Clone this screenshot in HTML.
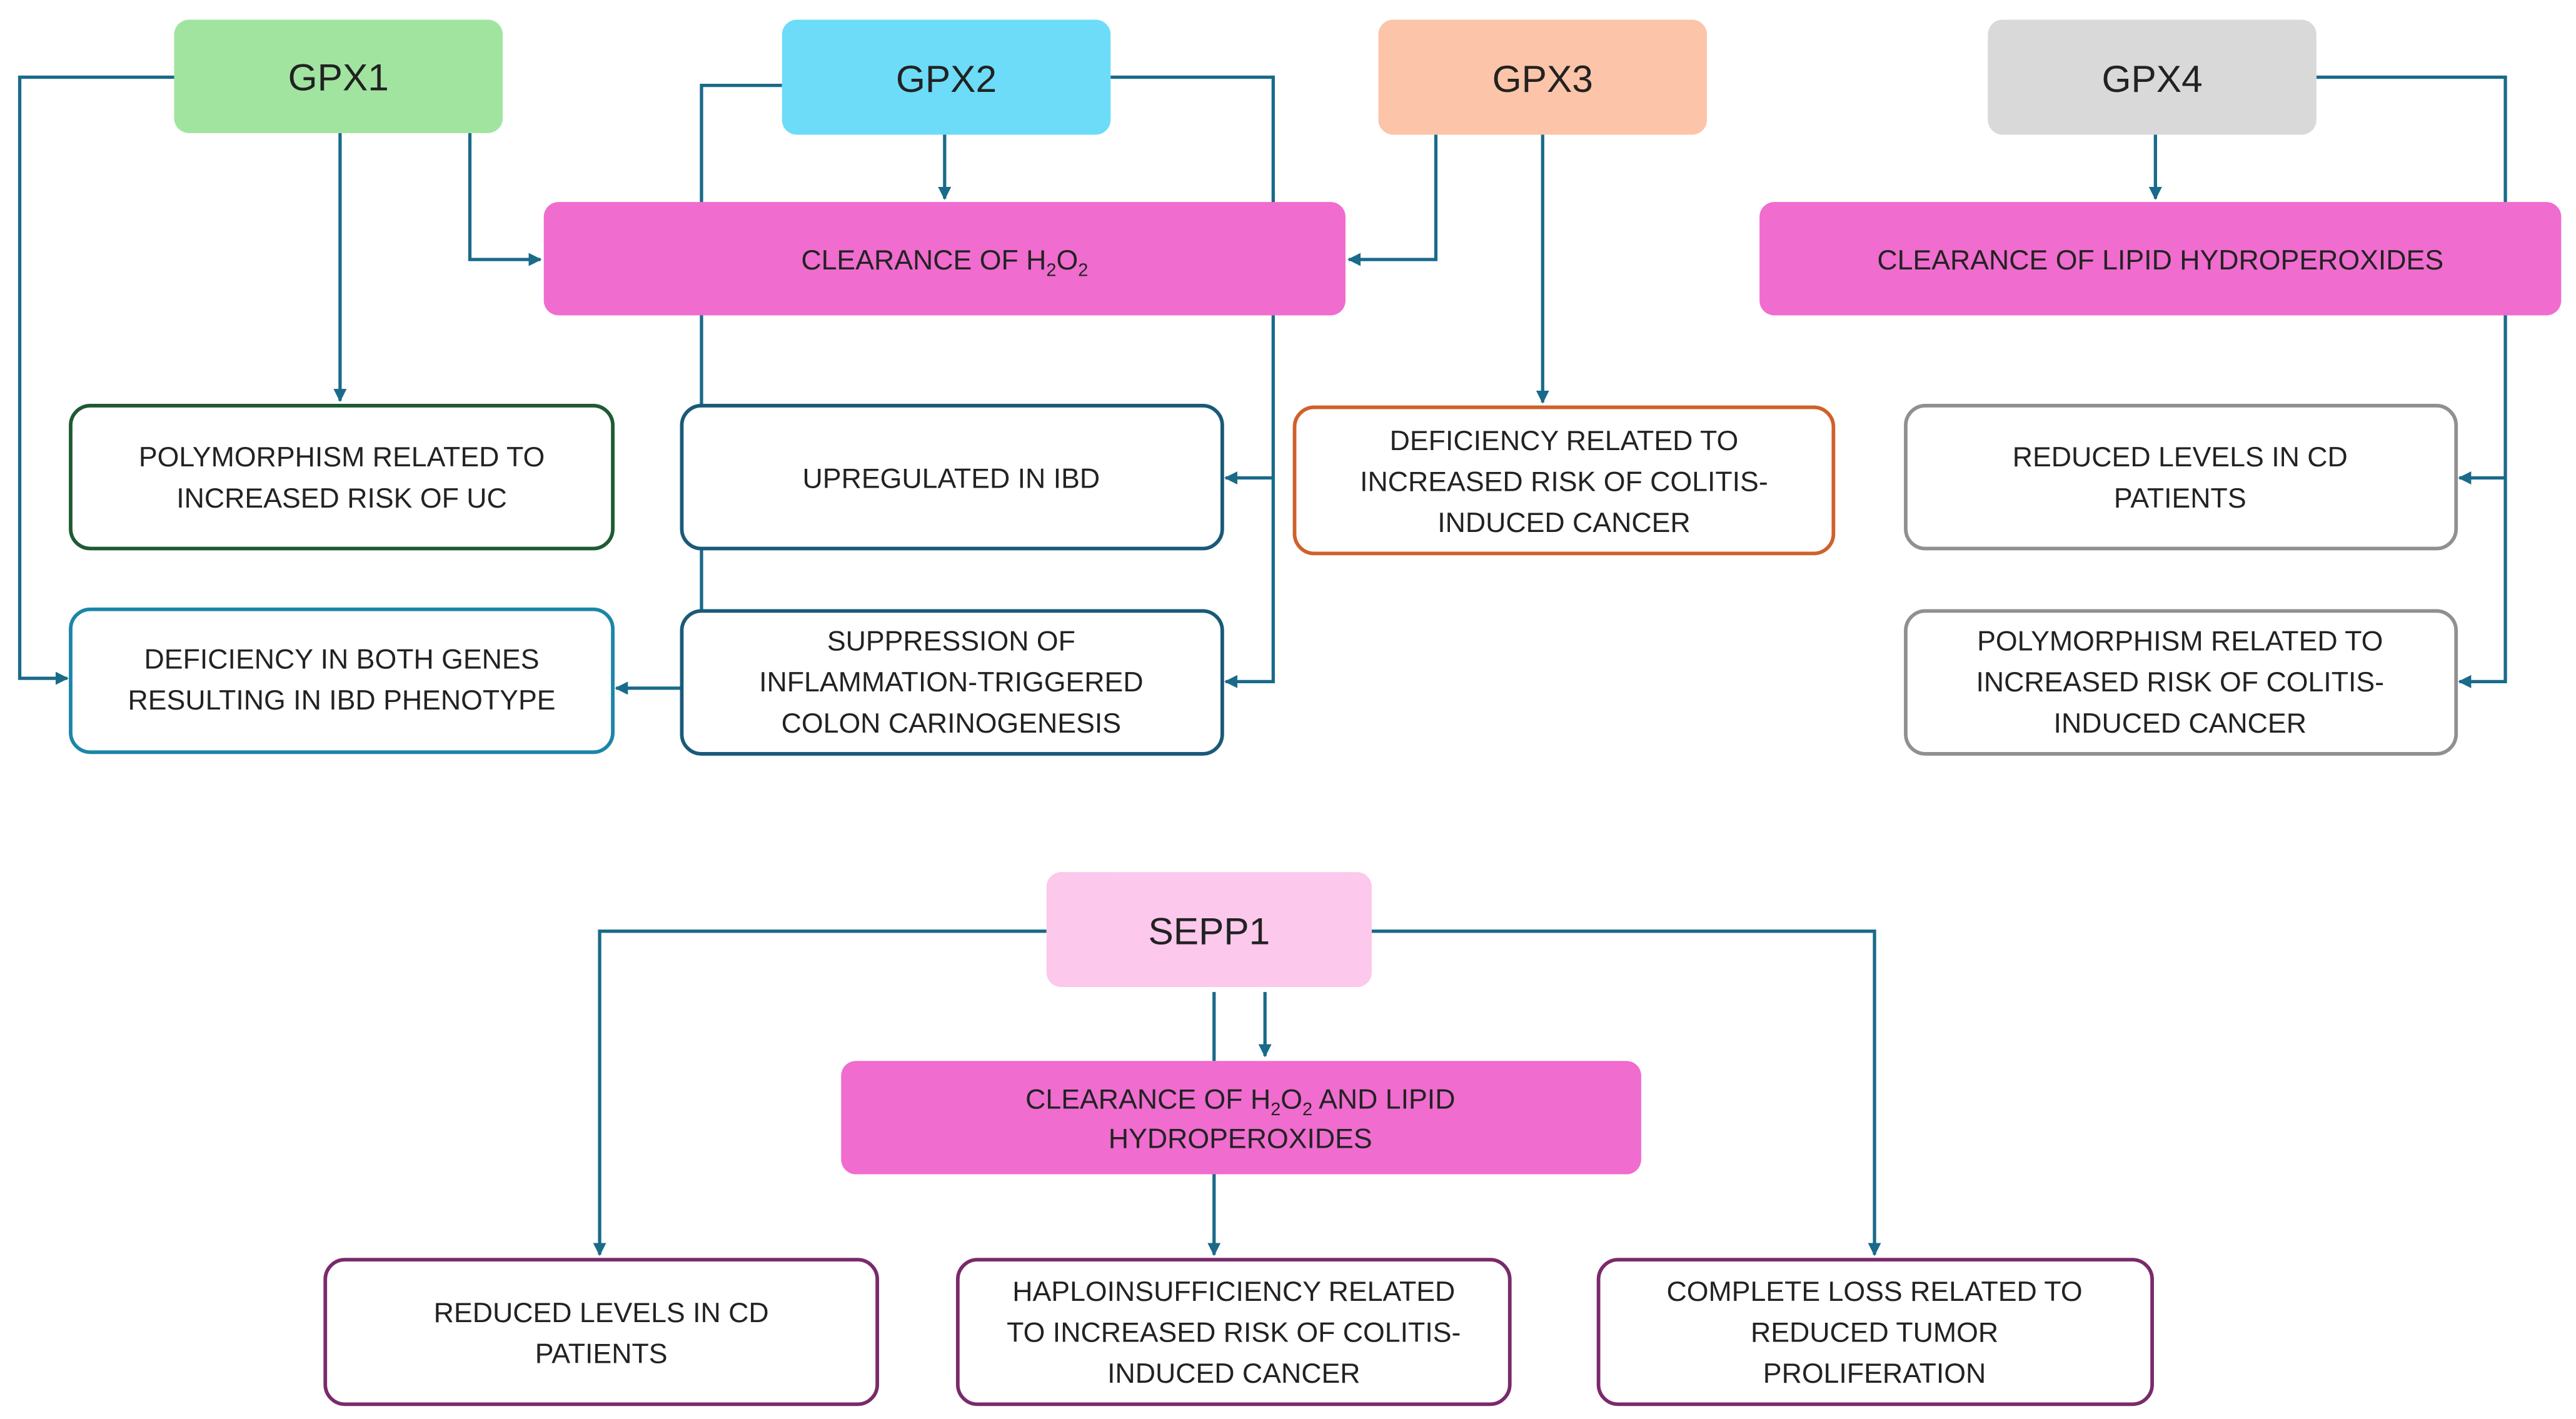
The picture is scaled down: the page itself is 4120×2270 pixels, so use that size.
<!DOCTYPE html>
<html><head><meta charset="utf-8"><style>html,body{margin:0;padding:0;background:#fff;}svg{display:block}</style></head>
<body>
<svg width="4120" height="2270" viewBox="0 0 1568 864" preserveAspectRatio="none" xmlns="http://www.w3.org/2000/svg">
<defs>
<marker id="a" viewBox="0 0 10 10" refX="9" refY="5" markerWidth="4" markerHeight="4" orient="auto"><path d="M0,0 L10,5 L0,10 z" fill="#1a6a8a"/></marker>
</defs>
<rect width="1568" height="864" fill="#fff"/>
<g fill="none" stroke="#1a6a8a" stroke-width="2">
<!-- GPX1 -->
<path d="M106,47 H12 V413 H41" marker-end="url(#a)"/>
<path d="M207,81 V244" marker-end="url(#a)"/>
<path d="M286,81 V158 H329" marker-end="url(#a)"/>
<!-- GPX2 -->
<path d="M476,52 H427 V371"/>
<path d="M676,47 H775 V415 H746" marker-end="url(#a)"/>
<path d="M775,291 H746" marker-end="url(#a)"/>
<path d="M575,82 V121" marker-end="url(#a)"/>
<path d="M415,419 H375" marker-end="url(#a)"/>
<!-- GPX3 -->
<path d="M874,82 V158 H821" marker-end="url(#a)"/>
<path d="M939,82 V245" marker-end="url(#a)"/>
<!-- GPX4 -->
<path d="M1312,82 V121" marker-end="url(#a)"/>
<path d="M1410,47 H1525 V415 H1497" marker-end="url(#a)"/>
<path d="M1525,291 H1497" marker-end="url(#a)"/>
<!-- SEPP1 -->
<path d="M637,567 H365 V764" marker-end="url(#a)"/>
<path d="M835,567 H1141 V764" marker-end="url(#a)"/>
<path d="M739,604 V646"/>
<path d="M770,604 V643" marker-end="url(#a)"/>
<path d="M739,715 V764" marker-end="url(#a)"/>
</g>
<!-- gene boxes -->
<rect x="106" y="12" width="200" height="69" rx="9" fill="#a0e4a0"/>
<rect x="476" y="12" width="200" height="70" rx="9" fill="#6cdcf8"/>
<rect x="839" y="12" width="200" height="70" rx="9" fill="#fcc4a8"/>
<rect x="1210" y="12" width="200" height="70" rx="9" fill="#d9d9d9"/>
<rect x="637" y="531" width="198" height="70" rx="9" fill="#fcc8ec"/>
<!-- clearance -->
<rect x="331" y="123" width="488" height="69" rx="9" fill="#f06ccf"/>
<rect x="1071" y="123" width="488" height="69" rx="9" fill="#f06ccf"/>
<rect x="512" y="646" width="487" height="69" rx="9" fill="#f06ccf"/>
<!-- outcome boxes -->
<g fill="#fff" stroke-width="2.2">
<rect x="43" y="247" width="330" height="87" rx="12" stroke="#1e5a32"/>
<rect x="415" y="247" width="329" height="87" rx="12" stroke="#1a5a78"/>
<rect x="788" y="248" width="328" height="89" rx="12" stroke="#d0602a"/>
<rect x="1160" y="247" width="335" height="87" rx="12" stroke="#909090"/>
<rect x="43" y="371" width="330" height="87" rx="12" stroke="#1a86a8"/>
<rect x="415" y="372" width="329" height="87" rx="12" stroke="#1a5a78"/>
<rect x="1160" y="372" width="335" height="87" rx="12" stroke="#909090"/>
<rect x="198" y="767" width="336" height="88" rx="12" stroke="#7a2a6a"/>
<rect x="583" y="767" width="336" height="88" rx="12" stroke="#7a2a6a"/>
<rect x="973" y="767" width="337" height="88" rx="12" stroke="#7a2a6a"/>
</g>
<g font-family="Liberation Sans, sans-serif" fill="#222" text-anchor="middle">
<g font-size="23">
<text x="206" y="55">GPX1</text>
<text x="576" y="56">GPX2</text>
<text x="939" y="56">GPX3</text>
<text x="1310" y="56">GPX4</text>
<text x="736" y="575">SEPP1</text>
</g>
<g font-size="17">
<text x="575" y="164">CLEARANCE OF H<tspan font-size="11" dy="4">2</tspan><tspan dy="-4">O</tspan><tspan font-size="11" dy="4">2</tspan></text>
<text x="1315" y="164">CLEARANCE OF LIPID HYDROPEROXIDES</text>
<text x="755" y="675">CLEARANCE OF H<tspan font-size="11" dy="4">2</tspan><tspan dy="-4">O</tspan><tspan font-size="11" dy="4">2</tspan><tspan dy="-4"> AND LIPID</tspan></text>
<text x="755" y="699">HYDROPEROXIDES</text>
<text x="208" y="284">POLYMORPHISM RELATED TO</text>
<text x="208" y="309">INCREASED RISK OF UC</text>
<text x="579" y="297">UPREGULATED IN IBD</text>
<text x="952" y="274">DEFICIENCY RELATED TO</text>
<text x="952" y="299">INCREASED RISK OF COLITIS-</text>
<text x="952" y="324">INDUCED CANCER</text>
<text x="1327" y="284">REDUCED LEVELS IN CD</text>
<text x="1327" y="309">PATIENTS</text>
<text x="208" y="407">DEFICIENCY IN BOTH GENES</text>
<text x="208" y="432">RESULTING IN IBD PHENOTYPE</text>
<text x="579" y="396">SUPPRESSION OF</text>
<text x="579" y="421">INFLAMMATION-TRIGGERED</text>
<text x="579" y="446">COLON CARINOGENESIS</text>
<text x="1327" y="396">POLYMORPHISM RELATED TO</text>
<text x="1327" y="421">INCREASED RISK OF COLITIS-</text>
<text x="1327" y="446">INDUCED CANCER</text>
<text x="366" y="805">REDUCED LEVELS IN CD</text>
<text x="366" y="830">PATIENTS</text>
<text x="751" y="792">HAPLOINSUFFICIENCY RELATED</text>
<text x="751" y="817">TO INCREASED RISK OF COLITIS-</text>
<text x="751" y="842">INDUCED CANCER</text>
<text x="1141" y="792">COMPLETE LOSS RELATED TO</text>
<text x="1141" y="817">REDUCED  TUMOR</text>
<text x="1141" y="842">PROLIFERATION</text>
</g>
</g>
</svg>
</body></html>
